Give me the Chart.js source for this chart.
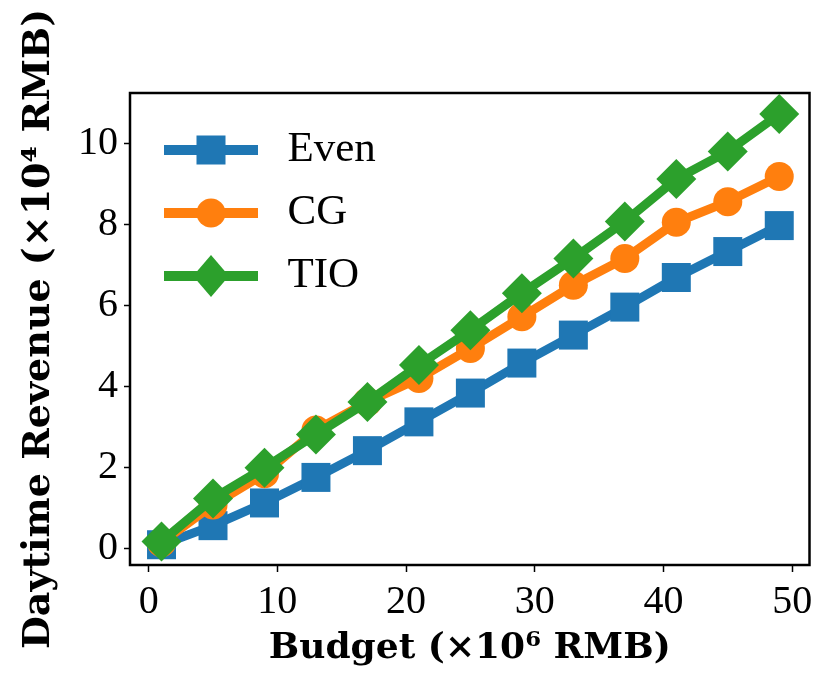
<!DOCTYPE html>
<html>
<head>
<meta charset="utf-8">
<script src="https://cdn.jsdelivr.net/npm/chart.js@4.4.1/dist/chart.umd.min.js"></script>
<style>
  html, body { margin: 0; padding: 0; background: #fff; }
  #wrap { width: 830px; height: 697px; position: relative; }
</style>
</head>
<body>
<div id="wrap"><canvas id="chart"></canvas></div>
<script>
// budget in 10^6 RMB, revenue in 10^4 RMB
const budgets = [1, 5, 9, 13, 17, 21, 25, 29, 33, 37, 41, 45, 49];
const evenRevenue = [0.10, 0.57, 1.13, 1.76, 2.42, 3.13, 3.84, 4.58, 5.27, 5.96, 6.69, 7.33, 7.97];
const cgRevenue = [0.15, 1.08, 1.85, 2.93, 3.62, 4.20, 4.94, 5.72, 6.50, 7.16, 8.05, 8.56, 9.18];
const tioRevenue = [0.18, 1.24, 2.00, 2.82, 3.62, 4.53, 5.39, 6.30, 7.16, 8.07, 9.12, 9.80, 10.72];
const seriesNames = ['Even', 'CG', 'TIO'];
const xTicks = [0, 10, 20, 30, 40, 50];
const yTicks = [0, 2, 4, 6, 8, 10];

const blue = '#1f77b4', orange = '#ff7f0e', green = '#2ca02c';
const tickFont = { family: 'Liberation Serif', size: 40 };

function pts(ys) {
  return budgets.map((b, i) => ({ x: b, y: ys[i] }));
}

// legend icon: line with marker on top, like matplotlib handles
function legendIcon(color, shape) {
  const c = document.createElement('canvas');
  c.width = 116; c.height = 44;
  const g = c.getContext('2d');
  g.strokeStyle = color;
  g.lineWidth = 10;
  g.beginPath(); g.moveTo(14, 22); g.lineTo(108, 22); g.stroke();
  g.fillStyle = color;
  const cx = 61, cy = 22;
  if (shape === 'square') {
    g.fillRect(cx - 14.5, cy - 14.5, 29, 29);
  } else if (shape === 'circle') {
    g.beginPath(); g.arc(cx, cy, 14.5, 0, Math.PI * 2); g.fill();
  } else {
    g.beginPath();
    g.moveTo(cx, cy - 21); g.lineTo(cx + 18, cy);
    g.lineTo(cx, cy + 21); g.lineTo(cx - 18, cy);
    g.closePath(); g.fill();
  }
  return c;
}

const icons = [legendIcon(blue, 'square'), legendIcon(orange, 'circle'), legendIcon(green, 'diamond')];

const frame = {
  id: 'frame',
  afterDatasetsDraw(chart) {
    const a = chart.chartArea, ctx = chart.ctx;
    ctx.save();
    ctx.strokeStyle = '#000';
    ctx.lineWidth = 2.5;
    ctx.strokeRect(a.left, a.top, a.right - a.left, a.bottom - a.top);
    ctx.restore();
  }
};

const common = { borderWidth: 9, pointBorderWidth: 0, clip: false, tension: 0 };

new Chart(document.getElementById('chart'), {
  type: 'line',
  data: {
    datasets: [
      { ...common, label: seriesNames[0], data: pts(evenRevenue), borderColor: blue, backgroundColor: blue,
        pointStyle: 'rect', pointRadius: 20.5, pointHoverRadius: 20.5, order: 3 },
      { ...common, label: seriesNames[1], data: pts(cgRevenue), borderColor: orange, backgroundColor: orange,
        pointStyle: 'circle', pointRadius: 14.5, pointHoverRadius: 14.5, order: 2 },
      { ...common, label: seriesNames[2], data: pts(tioRevenue), borderColor: green, backgroundColor: green,
        pointStyle: 'rectRot', pointRadius: 20, pointHoverRadius: 20, order: 1 }
    ]
  },
  options: {
    responsive: true,
    maintainAspectRatio: false,
    animation: false,
    layout: { padding: { top: 93, right: 18, left: 0, bottom: 0 } },
    scales: {
      x: {
        type: 'linear',
        min: -1.45,
        max: 51.35,
        afterBuildTicks: s => { s.ticks = xTicks.map(v => ({ value: v })); },
        afterFit: s => { s.height = 132; },
        ticks: { font: tickFont, color: '#000', padding: 6, maxRotation: 0 },
        grid: { display: true, drawOnChartArea: false, drawTicks: true, tickLength: 7, tickColor: '#000', tickWidth: 1.5 },
        border: { display: false },
        title: { display: true, text: 'Budget (×10⁶ RMB)', font: { family: 'DejaVu Serif', size: 36, weight: 'bold' },
          color: '#000', padding: { top: 0, bottom: 27 } }
      },
      y: {
        min: -0.4,
        max: 11.24,
        afterBuildTicks: s => { s.ticks = yTicks.map(v => ({ value: v })); },
        afterFit: s => { s.width = 130; },
        ticks: { font: tickFont, color: '#000', padding: 6 },
        grid: { display: true, drawOnChartArea: false, drawTicks: true, tickLength: 6, tickColor: '#000', tickWidth: 1.5 },
        border: { display: false },
        title: { display: true, text: 'Daytime Revenue (×10⁴ RMB)', font: { family: 'DejaVu Serif', size: 38, weight: 'bold' },
          color: '#000', padding: { top: 16, bottom: 0 } }
      }
    },
    plugins: {
      tooltip: { enabled: false },
      legend: {
        position: 'chartArea',
        align: 'start',
        title: { display: true, text: ' ', font: { size: 11.25 }, padding: { top: 95, bottom: 0 } },
        labels: {
          usePointStyle: true,
          pointStyleWidth: 116,
          padding: 20,
          color: '#000',
          font: { family: 'Liberation Serif', size: 43 },
          generateLabels: chart => chart.data.datasets.map((ds, i) => ({
            text: ds.label,
            pointStyle: icons[i],
            fillStyle: ds.backgroundColor,
            strokeStyle: ds.borderColor,
            lineWidth: 0,
            fontColor: '#000',
            hidden: false,
            datasetIndex: i
          }))
        }
      }
    }
  },
  plugins: [frame]
});
</script>
</body>
</html>
